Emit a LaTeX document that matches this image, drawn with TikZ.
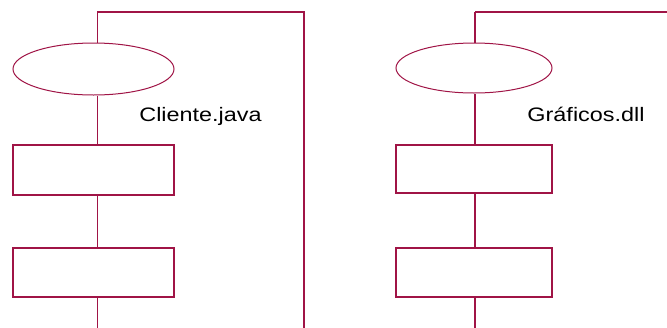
\documentclass[tikz,border=0pt]{standalone}
\usepackage{fontspec}
\setmainfont{Liberation Sans}
\usetikzlibrary{shapes.geometric}
\definecolor{umlred}{RGB}{160,20,70}
\tikzset{
  body/.style={draw=umlred, line width=1.4pt},
  iface/.style={ellipse, draw=umlred, line width=1pt, fill=white, inner sep=0pt},
  port/.style={rectangle, draw=umlred, line width=1.4pt, fill=white, inner sep=0pt},
  link/.style={draw=umlred, line width=1.4pt},
  lbl/.style={inner sep=0pt, anchor=base, font=\fontsize{19.5}{22}\selectfont}
}
\begin{document}
\begin{tikzpicture}[x=1pt, y=-1pt]
\useasboundingbox (0,0) rectangle (667,327);
% left component
\coordinate (ltop) at (97.3,12);
\coordinate (lbot) at (97.3,330);
\draw[body] (ltop) -- (304,12) -- (304,330);
\node[iface, minimum width=161, minimum height=52] (le) at (93.5,69) {};
\node[port, minimum width=161, minimum height=50] (lr1) at (93.5,170) {};
\node[port, minimum width=161, minimum height=49] (lr2) at (93.5,272.5) {};
\draw[link] (ltop) -- (le.north -| ltop);
\draw[link] (le.south -| ltop) -- (lr1.north -| ltop);
\draw[link] (lr1.south -| ltop) -- (lr2.north -| ltop);
\draw[link] (lr2.south -| ltop) -- (lbot);
\node[lbl] (lt) at (200.5,121) {\scalebox{1.2}[1]{Cliente.java}};
% right component
\coordinate (rtop) at (475,12);
\coordinate (rbot) at (475,330);
\draw[body] (rtop) -- (670,12);
\node[iface, minimum width=156, minimum height=50] (re) at (474,68) {};
\node[port, minimum width=156, minimum height=48] (rr1) at (474,169) {};
\node[port, minimum width=156, minimum height=49] (rr2) at (474,272.5) {};
\draw[link] (rtop) -- (re.north -| rtop);
\draw[link] (re.south -| rtop) -- (rr1.north -| rtop);
\draw[link] (rr1.south -| rtop) -- (rr2.north -| rtop);
\draw[link] (rr2.south -| rtop) -- (rbot);
\node[lbl] (rt) at (586,121) {\scalebox{1.2}[1]{Gráficos.dll}};
\end{tikzpicture}
\end{document}
